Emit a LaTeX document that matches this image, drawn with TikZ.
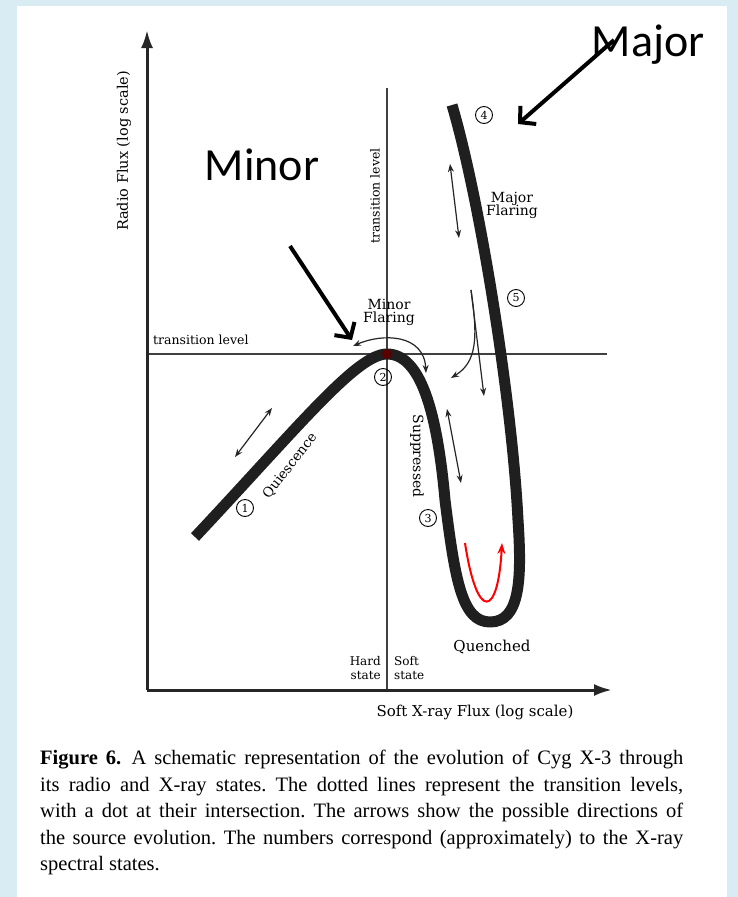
\documentclass[tikz,border=0pt]{standalone}
\usepackage{fontspec}
\setmainfont{Liberation Serif}
\newfontfamily\notefont{Carlito}
\newfontfamily\figfont{DejaVu Serif}
\usetikzlibrary{positioning,arrows.meta,calc}
\definecolor{bgblue}{RGB}{218,236,243}
\definecolor{dotred}{RGB}{90,0,0}
\newcommand{\fs}[1]{\figfont\fontsize{#1}{#1}\selectfont}
\tikzset{
	axis/.style={line width=3pt,black!85,-{Latex[length=18pt,width=12pt]}},
	level/.style={line width=1.2pt,black!75},
	track/.style={line width=11pt,black!88,line join=round},
	move/.style={line width=1.2pt,black!85,-{Stealth[length=8pt,width=6pt]}},
	both/.style={move,{Stealth[length=8pt,width=6pt]}-{Stealth[length=8pt,width=6pt]}},
	num/.style={circle,draw,line width=0.9pt,inner sep=0pt,minimum size=17pt,font=\fs{11}},
	lbl/.style={font=\fs{14},align=center,inner sep=0pt},
	note/.style={font=\notefont\fontsize{46}{46}\selectfont,inner sep=0pt},
	pointer/.style={line width=4pt,-{Straight Barb[length=11pt,width=24pt]}},
}
\begin{document}
\begin{tikzpicture}[x=1pt,y=-1pt]
	\fill[bgblue] (0,0) rectangle (738,897);
	\fill[white] (17,6) rectangle (727,897);
	% axes and transition levels
	\coordinate (O) at (147,690);
	\coordinate (ytop) at (147,30);
	\coordinate (xend) at (612,690);
	\coordinate (hl) at (147,354);
	\coordinate (hr) at (607,354);
	\coordinate (vt) at (387,88);
	\coordinate (vb) at (387,690);
	\draw[level] (hl) -- (hr);
	\draw[level] (vt) -- (vb);
	\draw[axis] (O) -- (ytop);
	\draw[axis] (O) -- (xend);
	\node[lbl,rotate=90,font=\fs{14.5}] (ylab) at (124,151) {Radio Flux (log scale)};
	\node[lbl,font=\fs{15}] (xlab) at (475,712) {Soft X-ray Flux (log scale)};
	\node[lbl,font=\fs{12.5},anchor=west] (hlab) at (153,340) {transition level};
	\node[lbl,font=\fs{12.5},rotate=90] (vlab) at (375,196) {transition level};
	\node[lbl,font=\fs{12},align=right,anchor=east] (hard) at (381,668) {Hard\\[2pt]state};
	\node[lbl,font=\fs{12},align=left,anchor=west] (soft) at (394,668) {Soft\\[2pt]state};
	% the track of the source
	\coordinate (qstart) at (195,537);
	\coordinate (peak) at (387,354);
	\coordinate (sbend) at (445,500);
	\coordinate (bottom) at (490,622);
	\coordinate (rbend) at (518,520);
	\coordinate (ftop) at (452,105);
	\draw[track] (qstart) .. controls (300,425) and (357,354) .. (peak)
		.. controls (420,354) and (437,410) .. (sbend)
		.. controls (455,580) and (462,622) .. (bottom)
		.. controls (520,622) and (522,580) .. (rbend)
		.. controls (512,400) and (480,200) .. (ftop);
	\node[circle,fill=dotred,minimum size=10pt,inner sep=0pt] (dot) at (peak) {};
	% states
	\node[num] (s1) at (245,508) {1};
	\node[num] (s2) at (383,377) {2};
	\node[num] (s3) at (428,518) {3};
	\node[num] (s4) at (484,115) {4};
	\node[num] (s5) at (516,298) {5};
	\node[lbl,rotate=52,font=\fs{13.5}] (quies) at (290,466) {Quiescence};
	\node[lbl,rotate=-90] (supp) at (417,456) {Suppressed};
	\node[lbl,font=\fs{15}] (quen) at (492,647) {Quenched};
	\node[lbl] (minfl) at (389,312) {Minor\\[-1pt]Flaring};
	\node[lbl] (majfl) at (512,205) {Major\\[-1pt]Flaring};
	% directions
	\coordinate (q1) at (235,457);
	\coordinate (q2) at (272,408);
	\draw[both] (q1) -- (q2);
	\coordinate (m1) at (353,346);
	\coordinate (m2) at (426,373);
	\draw[both] (m1) .. controls (383,333) and (424,334) .. (m2);
	\coordinate (j1) at (450,164);
	\coordinate (j2) at (459,238);
	\draw[both] (j1) -- (j2);
	\coordinate (f0) at (471,290);
	\coordinate (f1) at (484,396);
	\coordinate (f2) at (451,378);
	\draw[move] (f0) -- (f1);
	\draw[move] (f0) .. controls (478,338) and (477,362) .. (f2);
	\coordinate (d1) at (447,409);
	\coordinate (d2) at (461,483);
	\draw[both] (d1) -- (d2);
	\coordinate (r1) at (465,543);
	\coordinate (r2) at (502,543);
	\draw[line width=2pt,red,-{Stealth[length=11pt,width=8pt]}] (r1) .. controls (477,622) and (498,618) .. (r2);
	% annotations
	\node[note] (minor) at (262,165) {Minor};
	\node[note] (major) at (648,45) {Major};
	\coordinate (mi1) at (290,246);
	\coordinate (mi2) at (352,340);
	\draw[pointer] (mi1) -- (mi2);
	\coordinate (ma1) at (614,40);
	\coordinate (ma2) at (518,124);
	\draw[pointer] (ma1) -- (ma2);
	% caption
	\node[anchor=north west,inner sep=0pt,text width=643pt,align=justify,font=\frenchspacing\fontsize{20.5}{26.5}\selectfont] (cap) at (40,750)
		{\textbf{Figure 6.}\enspace A schematic representation of the evolution of Cyg X-3 through\linebreak
		its radio and X-ray states. The dotted lines represent the transition levels,\linebreak
		with a dot at their intersection. The arrows show the possible directions of\linebreak
		the source evolution. The numbers correspond (approximately) to the X-ray\linebreak
		spectral states.};
\end{tikzpicture}
\end{document}
